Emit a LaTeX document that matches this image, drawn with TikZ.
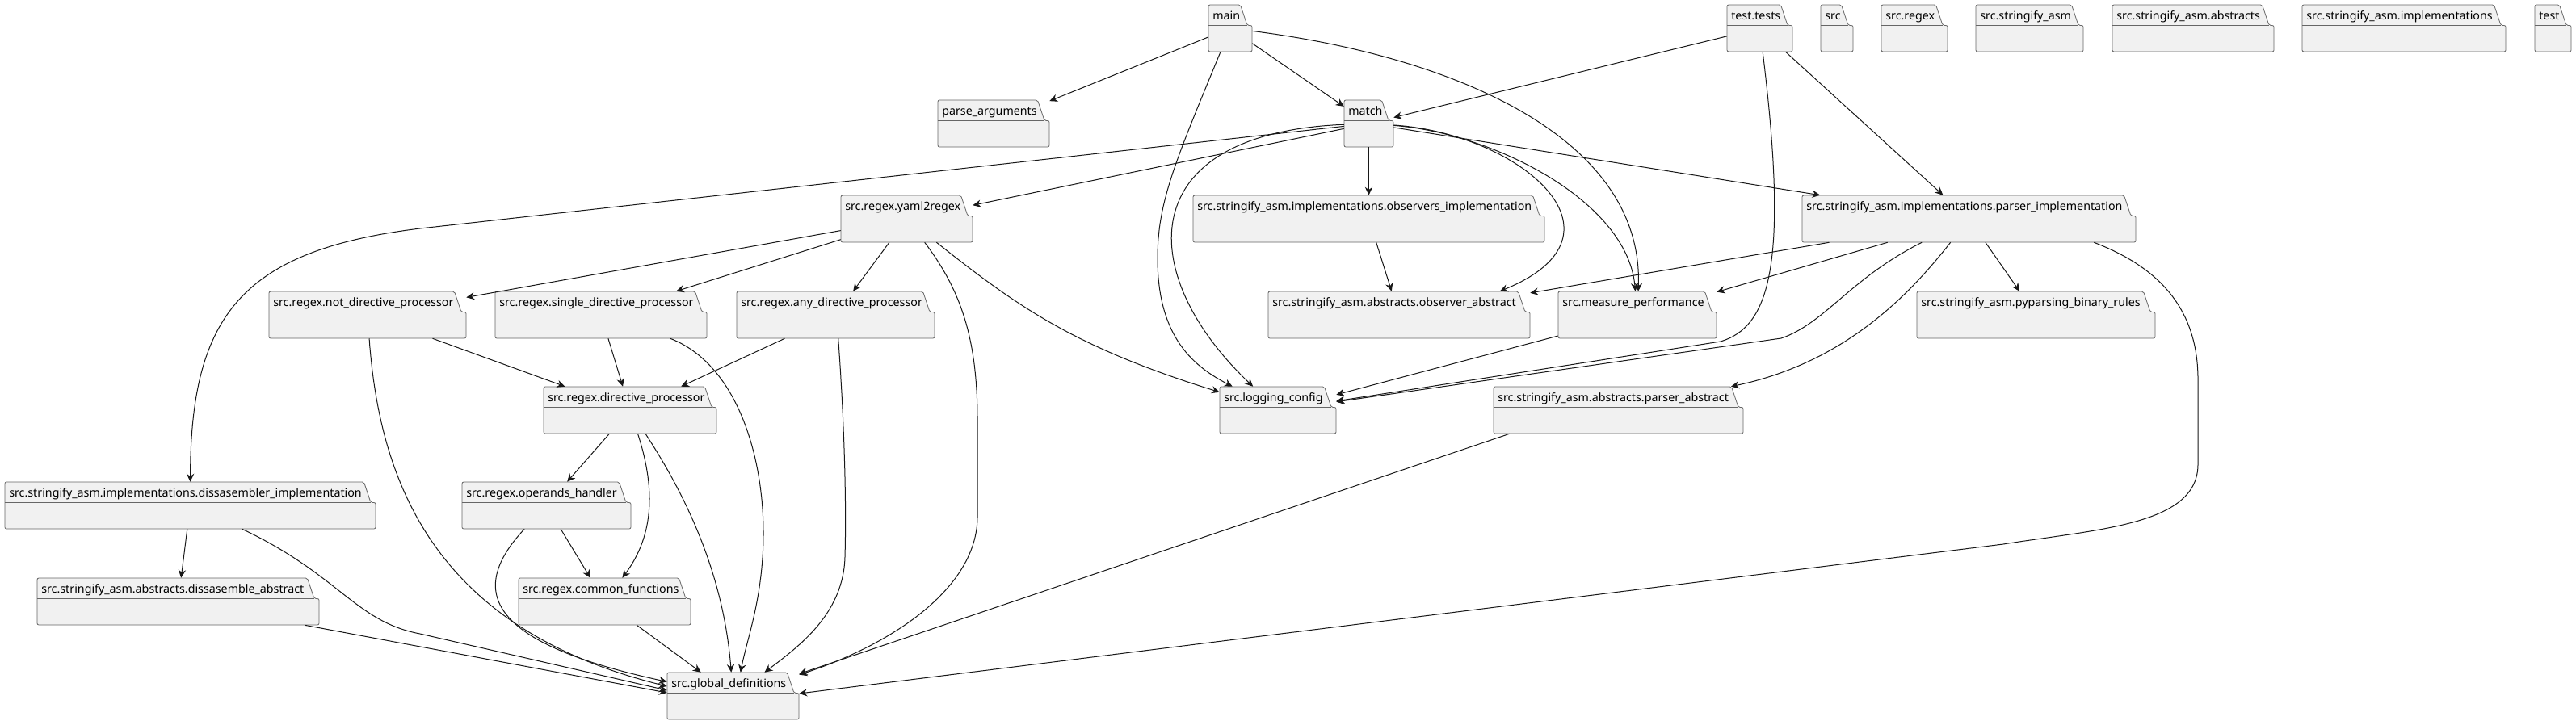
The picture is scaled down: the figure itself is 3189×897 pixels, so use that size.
\documentclass[tikz,border=0pt]{standalone}
\usepackage{fontspec}
\setmainfont{Noto Sans}
\usepackage{tikz}
\usetikzlibrary{calc}
\usetikzlibrary{fit}
\usetikzlibrary{arrows.meta}

\definecolor{pkgfill}{HTML}{F1F1F1}
\definecolor{pkgedge}{HTML}{181818}
\newcommand{\pkgfont}{\fontsize{10.7pt}{12pt}\selectfont}

% #1 name, #2 left, #3 top, #4 right, #5 label (pixel units, y down)
\newcommand{\pkgbox}[5]{%
    \pgfmathsetmacro{\tabright}{#4-14.5}%
    \filldraw[pkgline] (#2,#3) -- (\tabright,#3) -- (\tabright+8.5,#3+25.5) -- (#4,#3+25.5)
        -- (#4,#3+58) -- (#2,#3+58) -- cycle;
    \draw[pkgline] (#2,#3+25.5) -- (\tabright+8.5,#3+25.5);
    \node[pkglabel] (#1-label) at (#2+5,#3+18.5) {#5};
    \node[fit={(#2,#3) (#4,#3+58)}, inner sep=0pt] (#1) {};
}

\begin{document}
\begin{tikzpicture}[
        x=0.75pt, y=-0.75pt,
        pkgline/.style={draw=black!60, fill=pkgfill, line width=0.6pt, rounded corners=1.5pt},
        pkglabel/.style={anchor=base west, inner sep=0pt, font=\pkgfont, text=black},
        dep/.style={draw=pkgedge, line width=0.75pt, -{Stealth[length=7.5pt, width=7pt, inset=2.5pt]}}
    ]
    \fill[white] (0,0) rectangle (3189,897);
    \useasboundingbox (0,0) rectangle (3189,897);

    % packages
    \pkgbox{main}{1496}{6}{1550}{main}
    \pkgbox{tests}{2138}{6}{2219}{test.tests}
    \pkgbox{src}{2254}{6}{2294}{src}
    \pkgbox{srcregex}{2329}{6}{2411}{src.regex}
    \pkgbox{stringify}{2446}{6}{2579}{src.stringify\_asm}
    \pkgbox{abstracts}{2615}{6}{2815}{src.stringify\_asm.abstracts}
    \pkgbox{implementations}{2850}{6}{3102}{src.stringify\_asm.implementations}
    \pkgbox{test}{3138}{6}{3183}{test}
    \pkgbox{parseargs}{1161}{124}{1299}{parse\_arguments}
    \pkgbox{match}{1664}{124}{1725}{match}
    \pkgbox{yaml}{1041}{242}{1204}{src.regex.yaml2regex}
    \pkgbox{observers}{1477}{242}{1912}{src.stringify\_asm.implementations.observers\_implementation}
    \pkgbox{parserimpl}{2231}{242}{2644}{src.stringify\_asm.implementations.parser\_implementation}
    \pkgbox{notdir}{333}{361}{577}{src.regex.not\_directive\_processor}
    \pkgbox{singledir}{613}{361}{875}{src.regex.single\_directive\_processor}
    \pkgbox{anydir}{912}{361}{1157}{src.regex.any\_directive\_processor}
    \pkgbox{obsabstract}{1570}{361}{1894}{src.stringify\_asm.abstracts.observer\_abstract}
    \pkgbox{measure}{1929}{361}{2125}{src.measure\_performance}
    \pkgbox{pyparsing}{2373}{361}{2668}{src.stringify\_asm.pyparsing\_binary\_rules}
    \pkgbox{directive}{673}{479}{887}{src.regex.directive\_processor}
    \pkgbox{logging}{1510}{479}{1654}{src.logging\_config}
    \pkgbox{parserabstract}{1849}{479}{2158}{src.stringify\_asm.abstracts.parser\_abstract}
    \pkgbox{dissimpl}{6}{597}{465}{src.stringify\_asm.implementations.dissasembler\_implementation}
    \pkgbox{operands}{572}{597}{781}{src.regex.operands\_handler}
    \pkgbox{dissabstract}{46}{716}{395}{src.stringify\_asm.abstracts.dissasemble\_abstract}
    \pkgbox{common}{642}{716}{855}{src.regex.common\_functions}
    \pkgbox{globaldefs}{826}{833}{989}{src.global\_definitions}

    % main
    \draw[dep] (main) -- (parseargs);
    \draw[dep] (main) -- (match);
    \draw[dep] (main) .. controls (1455,200) and (1433,250) .. (1433,320)
        .. controls (1433,420) and (1480,455) .. (logging);
    \draw[dep] (main) .. controls (1800,70) and (2035,170) .. (measure);

    % test.tests
    \draw[dep] (tests) -- (match);
    \draw[dep] (tests) -- (parserimpl);
    \draw[dep] (tests) .. controls (2215,330) and (2190,405) .. (2130,423) -- (logging);

    % match
    \draw[dep] (match) -- (yaml);
    \draw[dep] (match) -- (observers);
    \draw[dep] (match) -- (parserimpl);
    \draw[dep] (match) -- (520,283) .. controls (300,310) and (236,390) .. (dissimpl);
    \draw[dep] (match) .. controls (1400,165) and (1405,340) .. (logging);
    \draw[dep] (match) .. controls (1880,165) and (2030,290) .. ($(obsabstract.north west)+(287,0)$);
    \draw[dep] (match) .. controls (1850,165) and (2015,250) .. (measure);

    % src.regex.yaml2regex
    \draw[dep] (yaml) -- (notdir);
    \draw[dep] (yaml) -- (singledir);
    \draw[dep] (yaml) -- (anydir);
    \draw[dep] (yaml) .. controls (1260,380) and (1330,430) .. (logging);
    \draw[dep] (yaml) .. controls (1190,360) and (1210,420) .. (1210,520) -- (1210,640)
        .. controls (1210,730) and (1100,800) .. (globaldefs);

    % directive processors
    \draw[dep] (notdir) -- (directive);
    \draw[dep] (notdir) .. controls (470,600) and (540,780) .. ($(globaldefs.west)+(0,-12)$);
    \draw[dep] (singledir) -- (directive);
    \draw[dep] ($(singledir.south west)+(217,0)$) .. controls (910,450) and (945,560) .. (945,660)
        .. controls (945,740) and (925,790) .. ($(globaldefs.north west)+(91,0)$);
    \draw[dep] (anydir) -- (directive);
    \draw[dep] ($(anydir.south west)+(126,0)$) .. controls (1045,520) and (1048,620) .. (1046,690)
        .. controls (1044,760) and (990,800) .. (globaldefs);
    \draw[dep] (directive) -- (operands);
    \draw[dep] (directive) .. controls (810,600) and (812,660) .. (common);
    \draw[dep] (directive) .. controls (840,600) and (895,700) .. (globaldefs);
    \draw[dep] (operands) -- (common);
    \draw[dep] (operands) .. controls (570,740) and (620,800) .. (globaldefs);
    \draw[dep] (common) -- (globaldefs);

    % dissasembler
    \draw[dep] (dissimpl) -- (dissabstract);
    \draw[dep] ($(dissimpl.south west)+(294,0)$) .. controls (420,712) and (440,770) .. (520,785)
        -- ($(globaldefs.west)+(0,-7)$);
    \draw[dep] (dissabstract) -- ($(globaldefs.west)+(0,-4)$);

    % stringify_asm
    \draw[dep] (observers) -- (obsabstract);
    \draw[dep] (parserimpl) -- (obsabstract);
    \draw[dep] (parserimpl) -- (measure);
    \draw[dep] (parserimpl) -- (pyparsing);
    \draw[dep] (parserimpl) .. controls (2290,345) and (2260,400) .. (2205,419) -- (logging);
    \draw[dep] (parserimpl) .. controls (2360,370) and (2280,450) .. (parserabstract);
    \draw[dep] ($(parserimpl.south east)+(-52,0)$) .. controls (2670,330) and (2721,380) .. (2721,470)
        -- (2721,575) .. controls (2721,650) and (2600,655) .. (2480,674)
        -- ($(globaldefs.east)+(0,-3)$);
    \draw[dep] (measure) -- (logging);
    \draw[dep] ($(parserabstract.south west)+(20,0)$) -- (globaldefs);
\end{tikzpicture}
\end{document}
